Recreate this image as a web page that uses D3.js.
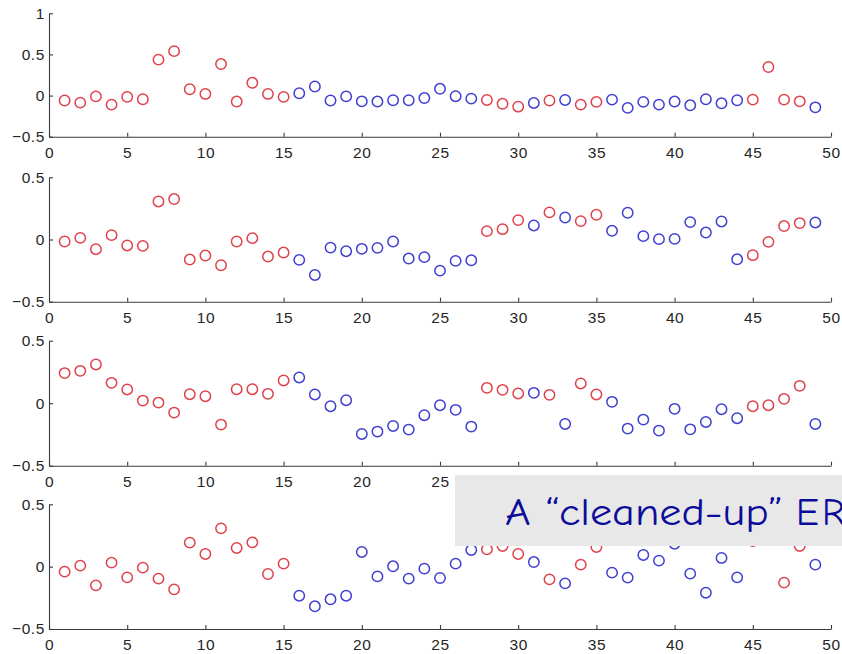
<!DOCTYPE html>
<html>
<head>
<meta charset="utf-8">
<script src="https://cdn.jsdelivr.net/npm/d3@7"></script>
<style>
  html, body { margin: 0; padding: 0; background: #fff; }
  svg { display: block; }
</style>
</head>
<body>
<svg id="chart" width="842" height="654"></svg>
<script>
// Sample index 1..49 shared by all four traces
const samples = d3.range(1, 50);

// Class of every sample: "r" (red) or "b" (blue), same in all traces
const sampleClass = [
  "r","r","r","r","r","r","r","r","r","r","r","r","r","r","r",
  "b","b","b","b","b","b","b","b","b","b","b","b",
  "r","r","r","b","r","b","r","r",
  "b","b","b","b","b","b","b","b","b",
  "r","r","r","r","b"
];

const trace1 = [
  -0.06,-0.086,-0.01,-0.11,-0.016,-0.045,0.437,0.54,0.077,0.02,
  0.383,-0.073,0.155,0.02,-0.016,0.028,0.11,-0.06,-0.01,-0.07,
  -0.073,-0.057,-0.057,-0.03,0.082,-0.008,-0.037,-0.053,-0.10,-0.135,
  -0.09,-0.06,-0.053,-0.11,-0.077,-0.049,-0.15,-0.077,-0.11,-0.073,
  -0.118,-0.045,-0.094,-0.057,-0.049,0.347,-0.049,-0.07,-0.143
];
const trace2 = [
  -0.016,0.013,-0.078,0.035,-0.048,-0.051,0.306,0.325,-0.161,-0.129,
  -0.207,-0.016,0.011,-0.137,-0.105,-0.164,-0.285,-0.065,-0.094,-0.075,
  -0.067,-0.016,-0.153,-0.142,-0.25,-0.172,-0.167,0.067,0.083,0.156,
  0.113,0.218,0.177,0.148,0.199,0.07,0.215,0.027,0.003,0.005,
  0.14,0.056,0.145,-0.159,-0.126,-0.019,0.108,0.132,0.137
];
const trace3 = [
  0.241,0.259,0.31,0.163,0.11,0.021,0.005,-0.075,0.072,0.056,
  -0.171,0.112,0.112,0.075,0.182,0.206,0.07,-0.024,0.024,-0.246,
  -0.227,-0.182,-0.211,-0.096,-0.016,-0.053,-0.187,0.123,0.107,0.078,
  0.083,0.067,-0.166,0.158,0.07,0.011,-0.203,-0.131,-0.219,-0.045,
  -0.209,-0.15,-0.048,-0.12,-0.024,-0.016,0.035,0.139,-0.166
];
const trace4 = [
  -0.04,0.008,-0.15,0.032,-0.086,-0.008,-0.096,-0.182,0.193,0.102,
  0.307,0.15,0.195,-0.059,0.024,-0.233,-0.318,-0.262,-0.233,0.118,
  -0.078,0.003,-0.096,-0.016,-0.091,0.024,0.134,0.139,0.166,0.102,
  0.037,-0.102,-0.134,0.016,0.158,-0.048,-0.088,0.094,0.048,0.184,
  -0.056,-0.209,0.07,-0.086,0.206,0.25,-0.128,0.166,0.016
];

// Axis ticks
const xTicks = [0, 5, 10, 15, 20, 25, 30, 35, 40, 45, 50];
const yTicksTop = [-0.5, 0, 0.5, 1];
const yTicksRest = [-0.5, 0, 0.5];

// Banner caption, split so the acronym can be placed on its own
const captionLead = "A \u201ccleaned-up\u201d";
const captionTail = "ERP";

const panels = [
  { values: trace1, domain: [-0.5, 1],   ticks: yTicksTop,  top: 13.3,  bottom: 136.7 },
  { values: trace2, domain: [-0.5, 0.5], ticks: yTicksRest, top: 177.3, bottom: 301.7 },
  { values: trace3, domain: [-0.5, 0.5], ticks: yTicksRest, top: 340.7, bottom: 465.7 },
  { values: trace4, domain: [-0.5, 0.5], ticks: yTicksRest, top: 504.3, bottom: 629 }
];

const colors = { r: "#e0424c", b: "#3f3fd2" };
const svg = d3.select("#chart");
const x = d3.scaleLinear().domain([0, 50]).range([49, 831]);
const fmt = d3.format("");

panels.forEach(p => {
  const y = d3.scaleLinear().domain(p.domain).range([p.bottom, p.top]);
  const g = svg.append("g");

  const xAxis = g.append("g")
    .attr("transform", `translate(0,${p.bottom})`)
    .call(d3.axisBottom(x).tickValues(xTicks).tickFormat(fmt)
      .tickSizeInner(-4).tickSizeOuter(0).tickPadding(10));
  const yAxis = g.append("g")
    .attr("transform", `translate(${x(0)},0)`)
    .call(d3.axisLeft(y).tickValues(p.ticks).tickFormat(fmt)
      .tickSizeInner(-4).tickSizeOuter(0).tickPadding(4));

  [xAxis, yAxis].forEach(a => {
    a.select(".domain").attr("stroke", "#3a3a3a").attr("stroke-width", 1.1);
    a.selectAll(".tick line").attr("stroke", "#3a3a3a").attr("stroke-width", 1.1);
    a.selectAll(".tick text")
      .attr("fill", "#262626")
      .style("font-family", "'Liberation Sans', Arial, Helvetica, sans-serif")
      .style("font-size", "15.5px")
      .style("letter-spacing", "0.6px");
  });

  g.append("g").selectAll("circle")
    .data(samples)
    .join("circle")
    .attr("cx", (d) => x(d))
    .attr("cy", (d, i) => y(p.values[i]))
    .attr("r", 5.2)
    .attr("fill", "none")
    .attr("stroke", (d, i) => colors[sampleClass[i]])
    .attr("stroke-width", 1.5);
});

// Caption banner laid over the lower-right corner
const banner = svg.append("g");
banner.append("rect")
  .attr("x", 455).attr("y", 475)
  .attr("width", 400).attr("height", 71)
  .attr("fill", "#e8e8e8");
const captionFont = "'Comic Sans MS', 'Comic Neue', 'DejaVu Sans', sans-serif";
banner.append("text")
  .attr("x", 505).attr("y", 525)
  .attr("textLength", 278)
  .attr("lengthAdjust", "spacingAndGlyphs")
  .attr("fill", "#0c0c9a")
  .style("font-family", captionFont)
  .style("font-size", "38px")
  .text(captionLead);
banner.append("text")
  .attr("x", 796).attr("y", 525)
  .attr("fill", "#0c0c9a")
  .style("font-family", captionFont)
  .style("font-size", "38px")
  .style("letter-spacing", "3px")
  .text(captionTail);
</script>
</body>
</html>
